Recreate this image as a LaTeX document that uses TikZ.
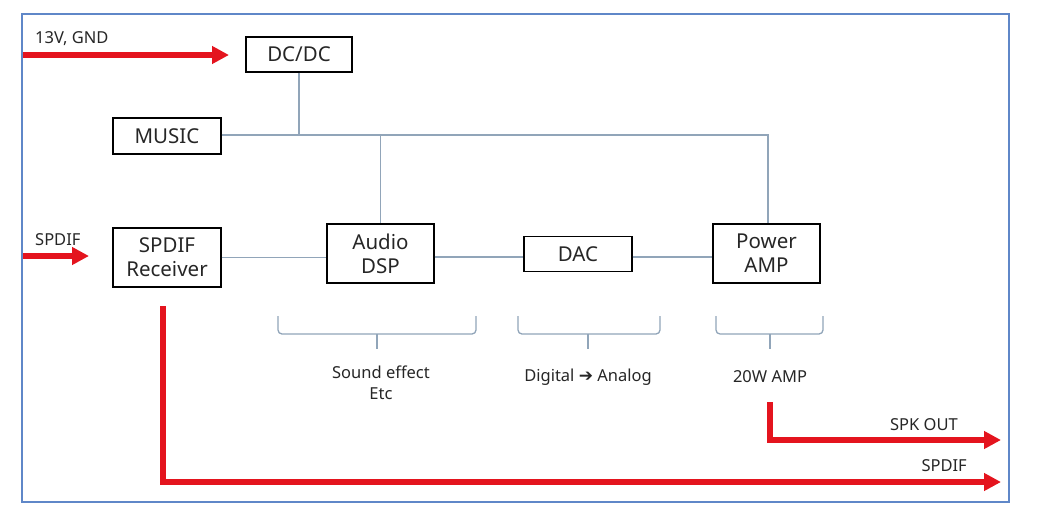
\documentclass[tikz,border=0pt]{standalone}
\usepackage{fontspec}
\setmainfont{Noto Sans}
\newfontfamily\symfont{DejaVu Sans}
\usetikzlibrary{arrows.meta}
\definecolor{frameblue}{RGB}{95,135,200}
\definecolor{wire}{RGB}{145,165,185}
\definecolor{sigred}{RGB}{228,20,30}
\tikzset{
  blk/.style={draw=black, line width=1.2pt, inner sep=0pt, align=center,
    font=\fontsize{20.5}{24}\selectfont, text=black!85},
  wireln/.style={draw=wire, line width=1.5pt},
  brc/.style={draw=wire, line width=1.3pt, rounded corners=4pt},
  redarr/.style={draw=sigred, line width=6pt, -{Triangle[length=17pt,width=17pt]}},
  lbl/.style={font=\fontsize{16.5}{21}\selectfont, text=black!85, inner sep=0pt, align=center},
}
\begin{document}
\begin{tikzpicture}[x=1pt,y=-1pt]
\useasboundingbox (0,0) rectangle (1044,512);
\draw[frameblue, line width=1.2pt] (22,14) rectangle (1009,502);

% blocks
\node[blk, minimum width=106pt, minimum height=35pt] (dcdc) at (299,54.5) {DC/DC};
\node[blk, minimum width=108pt, minimum height=36pt] (music) at (167,136) {MUSIC};
\node[blk, minimum width=108pt, minimum height=59pt] (rx) at (167,257.5) {SPDIF\\Receiver};
\node[blk, minimum width=107pt, minimum height=59pt] (dsp) at (380.5,253.5) {Audio\\DSP};
\node[blk, minimum width=108pt, minimum height=35pt] (dac) at (578,254) {DAC};
\node[blk, minimum width=107pt, minimum height=59pt] (amp) at (766.5,253.5) {Power\\AMP};

% wires
\coordinate (busend) at (768,135);
\draw[wireln] (dcdc.south) -- (dcdc.south |- busend);
\draw[wireln] (music.east |- busend) -- (busend) -- (busend |- amp.north);
\draw[wireln] (dsp.north |- busend) -- (dsp.north);
\draw[wireln] (rx.east) -- (rx.east -| dsp.west);
\draw[wireln] (dsp.east |- 0,257) -- (dac.west |- 0,257);
\draw[wireln] (dac.east |- 0,257) -- (amp.west |- 0,257);

% braces
\draw[brc] (278,316) |- (476,334) -- (476,316);
\draw[wireln] (377,334) -- (377,349);
\draw[brc] (518,316) |- (660,334) -- (660,316);
\draw[wireln] (588,334) -- (588,349);
\draw[brc] (716,316) |- (823,334) -- (823,316);
\draw[wireln] (770,334) -- (770,349);

\node[lbl] (fx) at (381,383) {Sound effect\\Etc};
\node[lbl] (da) at (588,377) {Digital {\symfont\fontsize{17}{20}\selectfont ➔} Analog};
\node[lbl] (w20) at (770,377) {20W AMP};

% red arrows
\coordinate (pin) at (23,55);
\coordinate (pintip) at (229,55);
\draw[redarr] (pin) -- (pintip);
\node[lbl, anchor=west] (pinl) at (35,39) {13V, GND};
\coordinate (sin) at (23,256);
\coordinate (sintip) at (89,256);
\draw[redarr] (sin) -- (sintip);
\node[lbl, anchor=west] (sinl) at (35,240) {SPDIF};

\coordinate (sout0) at (163,306);
\coordinate (sout1) at (163,482);
\coordinate (souttip) at (1001,482);
\draw[redarr, line join=miter] (sout0) -- (sout1) -- (souttip);
\node[lbl, anchor=east] (soutl) at (967,466) {SPDIF};

\coordinate (spk0) at (770,402);
\coordinate (spk1) at (770,440);
\coordinate (spktip) at (1001,440);
\draw[redarr, line join=miter] (spk0) -- (spk1) -- (spktip);
\node[lbl, anchor=east] (spkl) at (958,425) {SPK OUT};
\end{tikzpicture}
\end{document}
